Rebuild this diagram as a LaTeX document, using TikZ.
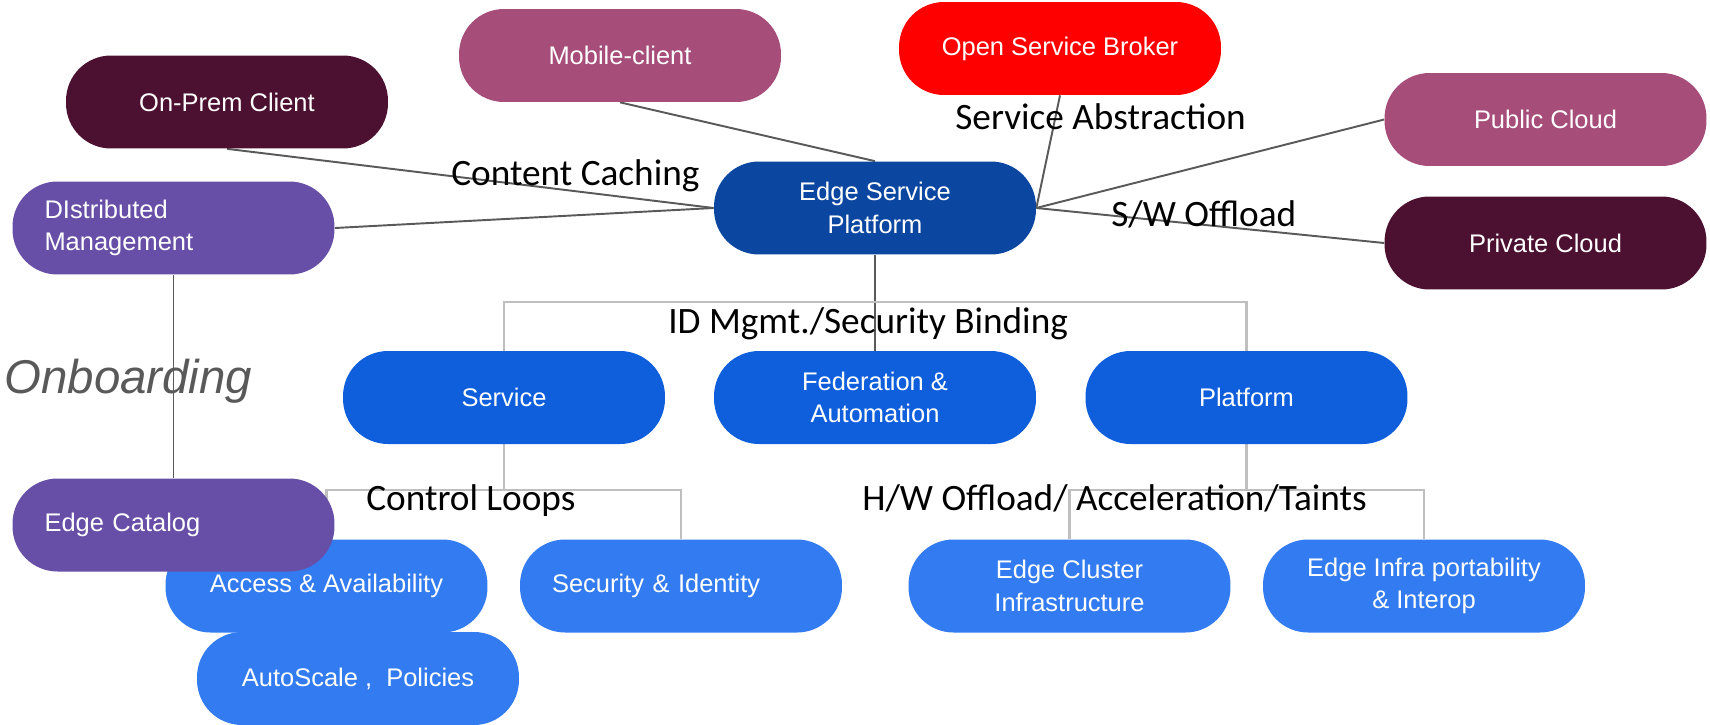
\documentclass[tikz,border=0pt]{standalone}
\usepackage{fontspec}
\setmainfont{Liberation Sans}
\newfontfamily\tagfont{Carlito}
\usetikzlibrary{backgrounds}

\definecolor{wineclr}{HTML}{4C1130}
\definecolor{plumclr}{HTML}{A64D79}
\definecolor{brokerclr}{HTML}{FF0000}
\definecolor{navyclr}{HTML}{0B46A0}
\definecolor{midblueclr}{HTML}{0F5FDC}
\definecolor{lightblueclr}{HTML}{327BF0}
\definecolor{violetclr}{HTML}{674EA7}
\definecolor{linkgray}{HTML}{595959}
\definecolor{treegray}{HTML}{BFBFBF}

\begin{document}
\begin{tikzpicture}[x=0.02cm, y=-0.02cm,
    box/.style={rounded corners=0.9cm, minimum width=6.44cm, minimum height=1.86cm,
        inner sep=0pt, align=center, text=white, font=\fontsize{14.5}{18.6}\selectfont},
    leftbox/.style={box, align=left, text width=5.16cm, inner xsep=0.64cm},
    link/.style={draw=linkgray, line width=1.1pt},
    tree/.style={draw=treegray, line width=1.4pt},
    tag/.style={anchor=base west, inner sep=0pt, font=\tagfont\fontsize{21.2}{24}\selectfont}]
    \useasboundingbox (0,0) rectangle (1710,724);

    % clients and clouds
    \node[box, fill=wineclr] (onprem) at (227,102) {On-Prem Client};
    \node[box, fill=plumclr] (mobile) at (620,55.5) {Mobile-client};
    \node[box, fill=brokerclr] (broker) at (1060,48.5) {Open Service Broker};
    \node[box, fill=plumclr] (pubcloud) at (1545.5,119.5) {Public Cloud};
    \node[box, fill=wineclr] (privcloud) at (1545.5,243) {Private Cloud};
    \node[box, fill=navyclr] (esp) at (875,208) {Edge Service\\Platform};
    \node[leftbox, fill=violetclr] (distmgmt) at (173.5,228) {DIstributed\\Management};

    % second level
    \node[box, fill=midblueclr] (service) at (504,397.5) {Service};
    \node[box, fill=midblueclr] (federation) at (875,397.5) {Federation \&\\Automation};
    \node[box, fill=midblueclr] (platform) at (1246.5,397.5) {Platform};

    % third level
    \node[box, fill=lightblueclr] (access) at (326.5,586) {Access \& Availability};
    \node[leftbox, fill=lightblueclr] (security) at (681,586) {Security \& Identity};
    \node[box, fill=lightblueclr] (autoscale) at (358,678.5) {AutoScale ,~ Policies};
    \node[box, fill=lightblueclr] (cluster) at (1069.5,586) {Edge Cluster\\Infrastructure};
    \node[box, fill=lightblueclr] (infra) at (1424,586) {Edge Infra portability\\\& Interop};
    \node[leftbox, fill=violetclr] (catalog) at (173.5,525) {Edge Catalog};

    \coordinate (topbar) at (875,302);
    \coordinate (svcbar) at (504,490);
    \coordinate (pfbar) at (1246.5,490);

    \begin{scope}[on background layer]
        \path[link] (onprem.south) edge (esp.west);
        \path[link] (mobile.south) edge (esp.north);
        \path[link] (distmgmt.east) edge (esp.west);
        \path[link] (broker.south) edge (esp.east);
        \path[link] (esp.east) edge (pubcloud.west);
        \path[link] (esp.east) edge (privcloud.west);
        \path[link] (esp.south) edge (federation.north);
        \path[link] (distmgmt.south) edge (catalog.north);

        \draw[tree] (service.north) |- (topbar) -| (platform.north);
        \draw[tree] (service.south) -- (svcbar);
        \draw[tree] (access.north) |- (svcbar) -| (security.north);
        \draw[tree] (platform.south) -- (pfbar);
        \draw[tree] (cluster.north) |- (pfbar) -| (infra.north);
    \end{scope}

    % labels
    \node[tag] (caching) at (451,185) {Content Caching};
    \node[tag] (abstraction) at (955,129) {Service Abstraction};
    \node[tag] (swoffload) at (1111,226) {S/W Offload};
    \node[tag] (binding) at (668,333) {ID Mgmt./Security Binding};
    \node[tag] (loops) at (366,510) {Control Loops};
    \node[tag] (hwoffload) at (862,510) {H/W Offload/ Acceleration/Taints};
    \node[anchor=base west, inner sep=0pt, text=linkgray,
        font=\fontsize{27}{30}\selectfont\itshape] (onboarding) at (4,393) {Onboarding};
\end{tikzpicture}
\end{document}
